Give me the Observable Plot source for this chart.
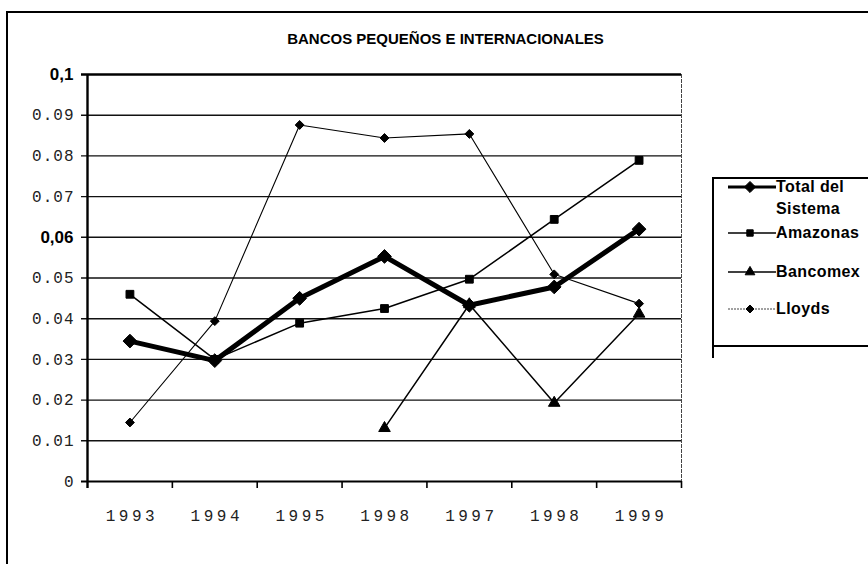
<!DOCTYPE html>
<html>
<head>
<meta charset="utf-8">
<script src="https://cdn.jsdelivr.net/npm/d3@7"></script>
<script src="https://cdn.jsdelivr.net/npm/@observablehq/plot@0.6"></script>
<style>
  body { margin: 0; background: #fff; }
  #wrap { position: relative; width: 868px; height: 564px; overflow: hidden; background: #fff; }
  #wrap > svg { position: absolute; left: 0; top: 0; }
  #frame { position: absolute; left: 6px; top: 11px; width: 880px; height: 600px;
           border-left: 2.5px solid #000; border-top: 2.5px solid #000; }
  #legend { position: absolute; left: 712px; top: 177px; width: 170px; height: 166px;
            border-left: 2px solid #000; border-top: 2px solid #000; border-bottom: 2px solid #000; }
  #legtail { position: absolute; left: 712px; top: 343px; width: 2px; height: 15px; background: #000; }
  .item { position: absolute; left: 14px; display: flex; align-items: flex-start;
          font: bold 16px "Liberation Sans", Arial, sans-serif; letter-spacing: 0.4px; color: #000; }
  .item span { display: block; width: 95px; line-height: 22px; }
  .item svg { flex: none; }
</style>
</head>
<body>
<div id="wrap">
  <div id="frame"></div>
</div>
<script>
const titleText = "BANCOS PEQUEÑOS E INTERNACIONALES";
const years = ["1993", "1994", "1995", "1998", "1997", "1998", "1999"];
const seriesNames = ["Total del Sistema", "Amazonas", "Bancomex", "Lloyds"];
const totalSistema = [0.0345, 0.0297, 0.0450, 0.0553, 0.0433, 0.0478, 0.0620];
const amazonas     = [0.0460, 0.0300, 0.0389, 0.0425, 0.0497, 0.0644, 0.0789];
const bancomex     = [null, null, null, 0.0131, 0.0435, 0.0193, 0.0412];
const lloyds       = [0.0145, 0.0394, 0.0876, 0.0844, 0.0854, 0.0509, 0.0437];
const yTickValues = [0, 0.01, 0.02, 0.03, 0.04, 0.05, 0.06, 0.07, 0.08, 0.09, 0.1];
const yTickLabels = ["0", "0.01", "0.02", "0.03", "0.04", "0.05", "0,06", "0.07", "0.08", "0.09", "0,1"];

const toRows = vals => vals.map((v, i) => ({i, v})).filter(d => d.v != null);
const styles = [
  {vals: totalSistema, symbol: "diamond2", r: 6.2, sw: 5},
  {vals: amazonas, symbol: "square", r: 4.4, sw: 1.5},
  {vals: bancomex, symbol: "triangle", r: 4.3, sw: 1.5},
  {vals: lloyds, symbol: "diamond2", r: 4.0, sw: 1.1}
];
const xLo = -0.5, xHi = years.length - 0.5;
const xIdx = years.map((_, i) => i);
const bounds = xIdx.map(i => i + 0.5);
const yRows = yTickValues.map((v, k) => ({v, label: yTickLabels[k]}));

const seriesMarks = [];
[3, 2, 1, 0].forEach(k => {
  const s = styles[k], rows = toRows(s.vals);
  seriesMarks.push(Plot.line(rows, {x: "i", y: "v", stroke: "#000", strokeWidth: s.sw, strokeLinejoin: "miter"}));
  seriesMarks.push(Plot.dot(rows, {x: "i", y: "v", symbol: s.symbol, r: s.r, fill: "#000", stroke: "#000", strokeWidth: 1}));
});

const chart = Plot.plot({
  width: 868, height: 564,
  marginLeft: 87, marginRight: 187, marginTop: 74, marginBottom: 83,
  x: {type: "linear", domain: [xLo, xHi], axis: null},
  y: {domain: [0, 0.1], axis: null},
  style: {background: "transparent", overflow: "visible"},
  marks: [
    Plot.ruleY(yTickValues.filter(v => v > 0 && v < 0.1), {x1: xLo, x2: xHi, insetLeft: -6, stroke: "#111", strokeWidth: 1.4}),
    Plot.ruleY([0.1], {x1: xLo, x2: xHi, insetLeft: -6, stroke: "#000", strokeWidth: 2.6}),
    Plot.ruleX([xHi], {y1: 0.1, y2: 0, stroke: "#444", strokeWidth: 1, strokeDasharray: "4,1"}),
    Plot.ruleX(bounds, {y1: 0, y2: 0, insetBottom: -7, stroke: "#000", strokeWidth: 1.6}),
    Plot.ruleY([0], {x1: xLo, x2: xHi, insetLeft: -6, stroke: "#000", strokeWidth: 2.2}),
    Plot.ruleX([xLo], {y1: 0.1, y2: 0, insetBottom: -7, stroke: "#000", strokeWidth: 2.4}),
    ...seriesMarks,
    Plot.text(yRows.filter(d => !d.label.includes(",")), {x: xLo, y: "v", text: "label", dx: -13, textAnchor: "end",
      fontFamily: "Liberation Mono", fontSize: 16, fill: "#222"}),
    Plot.text(yRows.filter(d => d.label.includes(",")), {x: xLo, y: "v", text: "label", dx: -14, textAnchor: "end",
      fontFamily: "Liberation Sans", fontWeight: "bold", fontSize: 17, fill: "#000"}),
    Plot.text(xIdx, {x: d => d, y: 0, text: d => years[d], dy: 34, dx: 2, fontFamily: "Liberation Mono", fontSize: 16,
      fill: "#222"}),
    Plot.text([titleText], {frameAnchor: "top", lineAnchor: "middle", dx: 61, dy: -35, fontFamily: "Liberation Sans",
      fontWeight: "bold", fontSize: 15, fill: "#000"})
  ]
});
const wrap = document.getElementById("wrap");
wrap.appendChild(chart);
// letter spacing for the typewriter-style tick labels
d3.select(chart).selectAll("text").each(function() {
  const t = this.textContent;
  if (years.includes(t)) this.style.letterSpacing = "3.5px";
  else if (yTickLabels.includes(t) && !t.includes(",")) this.style.letterSpacing = "1px";
});

// legend
const legend = document.createElement("div");
legend.id = "legend";
wrap.appendChild(legend);
const tail = document.createElement("div");
tail.id = "legtail";
wrap.appendChild(tail);
const itemTops = [-3, 43, 82, 119];
seriesNames.forEach((name, k) => {
  const s = styles[k];
  const item = document.createElement("div");
  item.className = "item";
  item.style.top = itemTops[k] + "px";
  const sv = d3.create("svg").attr("width", 48).attr("height", 22);
  sv.append("line").attr("x1", 0).attr("x2", 48).attr("y1", 11).attr("y2", 11)
    .attr("stroke", k === 3 ? "#444" : "#000").attr("stroke-width", k === 0 ? 3 : (k === 3 ? 1 : 1.4))
    .attr("stroke-dasharray", k === 3 ? "2,1" : null);
  const sym = s.symbol === "diamond2" ? d3.symbolDiamond2 : s.symbol === "square" ? d3.symbolSquare : d3.symbolTriangle;
  const rr = k === 0 ? 5 : 3.6;
  sv.append("path").attr("transform", "translate(22,11)")
    .attr("d", d3.symbol(sym, Math.PI * rr * rr)()).attr("fill", "#000").attr("stroke", "#000");
  item.appendChild(sv.node());
  const span = document.createElement("span");
  span.textContent = name;
  item.appendChild(span);
  legend.appendChild(item);
});
</script>
</body>
</html>
